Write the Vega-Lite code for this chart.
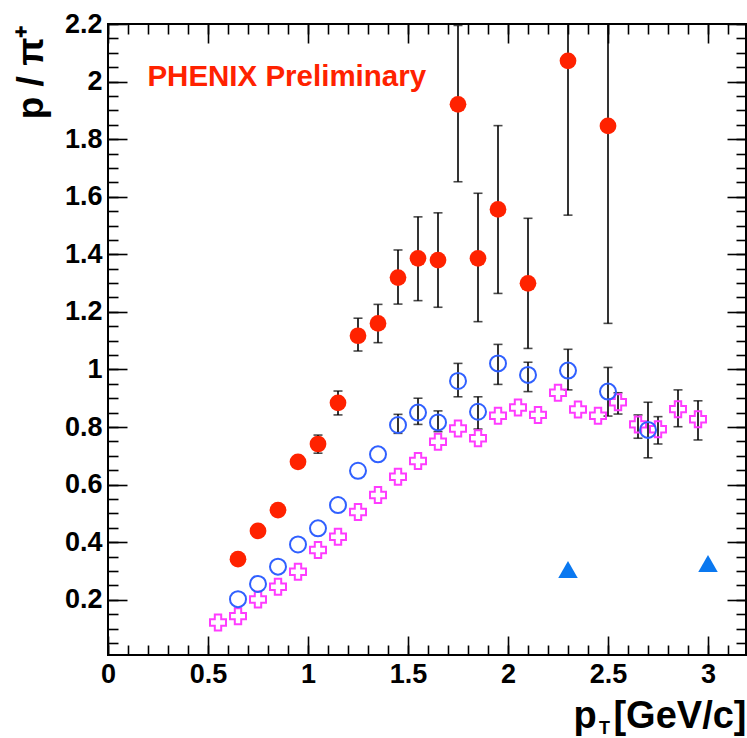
{
  "$schema": "https://vega.github.io/schema/vega-lite/v6.json",
  "width": 638,
  "height": 631,
  "autosize": {"type": "none"},
  "padding": {"left": 108, "top": 24, "right": 1, "bottom": 83},
  "background": "white",
  "config": {
    "view": {"stroke": "black", "strokeWidth": 2},
    "font": "Liberation Sans",
    "axis": {
      "grid": false,
      "domain": false,
      "labelFlush": false,
      "labelFont": "Liberation Sans",
      "labelFontWeight": "bold",
      "labelFontSize": 27,
      "labelColor": "black",
      "tickColor": "black",
      "tickWidth": 1.6,
      "titleFont": "Liberation Sans",
      "titleFontWeight": "bold",
      "titleColor": "black"
    }
  },
  "datasets": {
    "red": [
      {"x": 0.65, "y": 0.341}, {"x": 0.75, "y": 0.439}, {"x": 0.85, "y": 0.511}, {"x": 0.95, "y": 0.679},
      {"x": 1.05, "y": 0.741}, {"x": 1.15, "y": 0.884}, {"x": 1.25, "y": 1.117}, {"x": 1.35, "y": 1.16},
      {"x": 1.45, "y": 1.319}, {"x": 1.55, "y": 1.386}, {"x": 1.65, "y": 1.38}, {"x": 1.75, "y": 1.921},
      {"x": 1.85, "y": 1.386}, {"x": 1.95, "y": 1.556}, {"x": 2.1, "y": 1.299}, {"x": 2.3, "y": 2.072},
      {"x": 2.5, "y": 1.846}
    ],
    "blue": [
      {"x": 0.65, "y": 0.202}, {"x": 0.75, "y": 0.255}, {"x": 0.85, "y": 0.315}, {"x": 0.95, "y": 0.392},
      {"x": 1.05, "y": 0.448}, {"x": 1.15, "y": 0.529}, {"x": 1.25, "y": 0.648}, {"x": 1.35, "y": 0.705},
      {"x": 1.45, "y": 0.807}, {"x": 1.55, "y": 0.85}, {"x": 1.65, "y": 0.816}, {"x": 1.75, "y": 0.96},
      {"x": 1.85, "y": 0.853}, {"x": 1.95, "y": 1.021}, {"x": 2.1, "y": 0.981}, {"x": 2.3, "y": 0.996},
      {"x": 2.5, "y": 0.923}, {"x": 2.7, "y": 0.79}
    ],
    "mag": [
      {"x": 0.55, "y": 0.121}, {"x": 0.65, "y": 0.143}, {"x": 0.75, "y": 0.201}, {"x": 0.85, "y": 0.245},
      {"x": 0.95, "y": 0.297}, {"x": 1.05, "y": 0.373}, {"x": 1.15, "y": 0.419}, {"x": 1.25, "y": 0.505},
      {"x": 1.35, "y": 0.564}, {"x": 1.45, "y": 0.627}, {"x": 1.55, "y": 0.682}, {"x": 1.65, "y": 0.749},
      {"x": 1.75, "y": 0.795}, {"x": 1.85, "y": 0.761}, {"x": 1.95, "y": 0.839}, {"x": 2.05, "y": 0.868},
      {"x": 2.15, "y": 0.842}, {"x": 2.25, "y": 0.919}, {"x": 2.35, "y": 0.861}, {"x": 2.45, "y": 0.839},
      {"x": 2.55, "y": 0.886}, {"x": 2.65, "y": 0.809}, {"x": 2.75, "y": 0.792}, {"x": 2.85, "y": 0.862},
      {"x": 2.95, "y": 0.827}
    ],
    "tri": [
      {"x": 2.3, "y": 0.305}, {"x": 3.0, "y": 0.326}
    ],
    "err": [
      {"x": 1.05, "lo": 0.709, "hi": 0.772}, {"x": 1.15, "lo": 0.842, "hi": 0.925},
      {"x": 1.25, "lo": 1.064, "hi": 1.178}, {"x": 1.35, "lo": 1.093, "hi": 1.226},
      {"x": 1.45, "lo": 1.227, "hi": 1.415}, {"x": 1.55, "lo": 1.239, "hi": 1.53},
      {"x": 1.65, "lo": 1.216, "hi": 1.544}, {"x": 1.75, "lo": 1.652, "hi": 2.195},
      {"x": 1.85, "lo": 1.166, "hi": 1.612}, {"x": 1.95, "lo": 1.264, "hi": 1.847},
      {"x": 2.1, "lo": 1.073, "hi": 1.525}, {"x": 2.3, "lo": 1.536, "hi": 2.6},
      {"x": 2.5, "lo": 1.16, "hi": 2.55},
      {"x": 1.45, "lo": 0.778, "hi": 0.844}, {"x": 1.55, "lo": 0.809, "hi": 0.9},
      {"x": 1.65, "lo": 0.784, "hi": 0.856}, {"x": 1.75, "lo": 0.905, "hi": 1.021},
      {"x": 1.85, "lo": 0.793, "hi": 0.905}, {"x": 1.95, "lo": 0.948, "hi": 1.087},
      {"x": 2.1, "lo": 0.923, "hi": 1.025}, {"x": 2.3, "lo": 0.929, "hi": 1.07},
      {"x": 2.5, "lo": 0.838, "hi": 1.007}, {"x": 2.7, "lo": 0.693, "hi": 0.886},
      {"x": 2.55, "lo": 0.845, "hi": 0.919}, {"x": 2.65, "lo": 0.761, "hi": 0.842},
      {"x": 2.75, "lo": 0.741, "hi": 0.836}, {"x": 2.85, "lo": 0.801, "hi": 0.929},
      {"x": 2.95, "lo": 0.755, "hi": 0.891}
    ],
    "label": [
      {"x": 0.197, "y": 1.985, "t": "PHENIX Preliminary"}
    ]
  },
  "resolve": {"axis": {"x": "independent", "y": "independent"}},
  "layer": [
    {
      "data": {"name": "err"},
      "mark": {"type": "rule", "color": "black", "strokeWidth": 1.6, "clip": true},
      "encoding": {
        "x": {
          "field": "x", "type": "quantitative",
          "scale": {"domain": [0, 3.19], "nice": false, "zero": false},
          "axis": {
            "orient": "bottom",
            "values": [0, 0.5, 1, 1.5, 2, 2.5, 3],
            "format": "~g",
            "tickSize": -19,
            "labelPadding": 25,
            "title": "[GeV/c]",
            "titleFontSize": 38,
            "titleX": 638,
            "titleY": 72,
            "titleAlign": "right",
            "titleBaseline": "alphabetic"
          }
        },
        "y": {
          "field": "lo", "type": "quantitative",
          "scale": {"domain": [0.008, 2.2], "nice": false, "zero": false},
          "axis": {
            "orient": "left",
            "values": [0.2, 0.4, 0.6, 0.8, 1, 1.2, 1.4, 1.6, 1.8, 2, 2.2],
            "format": "~g",
            "tickSize": -19,
            "labelPadding": 25,
            "title": "p / π⁺",
            "titleFontSize": 37,
            "titleX": -66,
            "titleY": 0,
            "titleAngle": -90,
            "titleAlign": "right",
            "titleBaseline": "alphabetic"
          }
        },
        "y2": {"field": "hi"}
      }
    },
    {
      "data": {"name": "err"},
      "mark": {"type": "tick", "orient": "horizontal", "size": 9, "thickness": 1.6, "color": "black", "clip": true},
      "encoding": {
        "x": {
          "field": "x", "type": "quantitative",
          "scale": {"domain": [0, 3.19], "nice": false, "zero": false},
          "axis": {
            "orient": "bottom",
            "values": [0, 0.1, 0.2, 0.3, 0.4, 0.5, 0.6, 0.7, 0.8, 0.9, 1, 1.1, 1.2, 1.3, 1.4, 1.5, 1.6, 1.7, 1.8, 1.9, 2, 2.1, 2.2, 2.3, 2.4, 2.5, 2.6, 2.7, 2.8, 2.9, 3, 3.1],
            "tickSize": -10,
            "labels": false,
            "title": "p",
            "titleFontSize": 38,
            "titleX": 465,
            "titleY": 72,
            "titleAlign": "left",
            "titleBaseline": "alphabetic"
          }
        },
        "y": {
          "field": "lo", "type": "quantitative",
          "scale": {"domain": [0.008, 2.2], "nice": false, "zero": false},
          "axis": {
            "orient": "left",
            "values": [0.05, 0.1, 0.15, 0.2, 0.25, 0.3, 0.35, 0.4, 0.45, 0.5, 0.55, 0.6, 0.65, 0.7, 0.75, 0.8, 0.85, 0.9, 0.95, 1, 1.05, 1.1, 1.15, 1.2, 1.25, 1.3, 1.35, 1.4, 1.45, 1.5, 1.55, 1.6, 1.65, 1.7, 1.75, 1.8, 1.85, 1.9, 1.95, 2, 2.05, 2.1, 2.15, 2.2],
            "tickSize": -10,
            "labels": false,
            "title": null
          }
        }
      }
    },
    {
      "data": {"name": "err"},
      "mark": {"type": "tick", "orient": "horizontal", "size": 9, "thickness": 1.6, "color": "black", "clip": true},
      "encoding": {
        "x": {
          "field": "x", "type": "quantitative",
          "scale": {"domain": [0, 3.19], "nice": false, "zero": false},
          "axis": {
            "orient": "top",
            "values": [0, 0.5, 1, 1.5, 2, 2.5, 3],
            "tickSize": -19,
            "labels": false,
            "title": null
          }
        },
        "y": {
          "field": "hi", "type": "quantitative",
          "scale": {"domain": [0.008, 2.2], "nice": false, "zero": false},
          "axis": {
            "orient": "right",
            "values": [0.2, 0.4, 0.6, 0.8, 1, 1.2, 1.4, 1.6, 1.8, 2, 2.2],
            "tickSize": -19,
            "labels": false,
            "title": null
          }
        }
      }
    },
    {
      "data": {"name": "red"},
      "mark": {"type": "point", "shape": "circle", "filled": true, "color": "#ff2200", "opacity": 1, "size": 280},
      "encoding": {
        "x": {
          "field": "x", "type": "quantitative",
          "scale": {"domain": [0, 3.19], "nice": false, "zero": false},
          "axis": {
            "orient": "top",
            "values": [0, 0.1, 0.2, 0.3, 0.4, 0.5, 0.6, 0.7, 0.8, 0.9, 1, 1.1, 1.2, 1.3, 1.4, 1.5, 1.6, 1.7, 1.8, 1.9, 2, 2.1, 2.2, 2.3, 2.4, 2.5, 2.6, 2.7, 2.8, 2.9, 3, 3.1],
            "tickSize": -10,
            "labels": false,
            "title": null
          }
        },
        "y": {
          "field": "y", "type": "quantitative",
          "scale": {"domain": [0.008, 2.2], "nice": false, "zero": false},
          "axis": {
            "orient": "right",
            "values": [0.05, 0.1, 0.15, 0.2, 0.25, 0.3, 0.35, 0.4, 0.45, 0.5, 0.55, 0.6, 0.65, 0.7, 0.75, 0.8, 0.85, 0.9, 0.95, 1, 1.05, 1.1, 1.15, 1.2, 1.25, 1.3, 1.35, 1.4, 1.45, 1.5, 1.55, 1.6, 1.65, 1.7, 1.75, 1.8, 1.85, 1.9, 1.95, 2, 2.05, 2.1, 2.15, 2.2],
            "tickSize": -10,
            "labels": false,
            "title": null
          }
        }
      }
    },
    {
      "data": {"name": "mag"},
      "mark": {"type": "point", "shape": "cross", "filled": false, "color": "#ff3cff", "strokeWidth": 2, "opacity": 1, "size": 256},
      "encoding": {
        "x": {
          "field": "x", "type": "quantitative",
          "scale": {"domain": [0, 3.19], "nice": false, "zero": false},
          "axis": {
            "orient": "bottom",
            "values": [],
            "ticks": false,
            "labels": false,
            "title": "T",
            "titleFontSize": 18,
            "titleX": 496,
            "titleY": 78,
            "titleAlign": "center",
            "titleBaseline": "alphabetic"
          }
        },
        "y": {"field": "y", "type": "quantitative", "scale": {"domain": [0.008, 2.2], "nice": false, "zero": false}, "axis": null}
      }
    },
    {
      "data": {"name": "blue"},
      "mark": {"type": "point", "shape": "circle", "filled": false, "color": "#3060ff", "strokeWidth": 2, "opacity": 1, "size": 256},
      "encoding": {
        "x": {"field": "x", "type": "quantitative", "scale": {"domain": [0, 3.19], "nice": false, "zero": false}, "axis": null},
        "y": {"field": "y", "type": "quantitative", "scale": {"domain": [0.008, 2.2], "nice": false, "zero": false}, "axis": null}
      }
    },
    {
      "data": {"name": "tri"},
      "mark": {"type": "point", "shape": "triangle-up", "filled": true, "color": "#0a78f0", "opacity": 1, "size": 380},
      "encoding": {
        "x": {"field": "x", "type": "quantitative", "scale": {"domain": [0, 3.19], "nice": false, "zero": false}, "axis": null},
        "y": {"field": "y", "type": "quantitative", "scale": {"domain": [0.008, 2.2], "nice": false, "zero": false}, "axis": null}
      }
    },
    {
      "data": {"name": "label"},
      "mark": {"type": "text", "align": "left", "baseline": "alphabetic", "font": "Liberation Sans", "fontWeight": "bold", "fontSize": 29.5, "color": "#ff2200"},
      "encoding": {
        "x": {"field": "x", "type": "quantitative", "scale": {"domain": [0, 3.19], "nice": false, "zero": false}, "axis": null},
        "y": {"field": "y", "type": "quantitative", "scale": {"domain": [0.008, 2.2], "nice": false, "zero": false}, "axis": null},
        "text": {"field": "t"}
      }
    }
  ]
}
